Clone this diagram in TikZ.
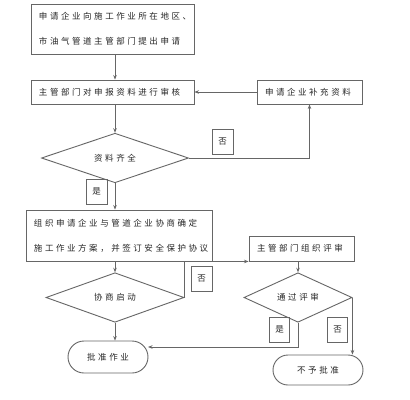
\documentclass[tikz,border=0pt]{standalone}
\usepackage{fontspec}
\newfontfamily\cjk[LetterSpace=30]{Noto Sans CJK SC}
\usetikzlibrary{shapes.geometric,arrows.meta}
\definecolor{lnc}{HTML}{666666}
\definecolor{txc}{HTML}{262626}
\tikzset{
  base/.style={draw=lnc, line width=0.9bp, text=txc, font=\cjk\fontsize{8.5bp}{25bp}\selectfont},
  box/.style={base, rectangle, inner xsep=8bp, inner ysep=0pt, align=left},
  dia/.style={base, diamond, inner sep=0pt},
  term/.style={base, rectangle, inner sep=0pt},
  lab/.style={base, rectangle, inner sep=0pt, minimum width=21bp, minimum height=25bp},
  arr/.style={draw=lnc, line width=0.9bp, -{Stealth[length=4.5bp,width=3.5bp]}},
  conn/.style={draw=lnc, line width=0.9bp},
}
\begin{document}
\begin{tikzpicture}[x=1bp,y=-1bp]
\useasboundingbox[fill=white] (0,0) rectangle (410,400);
% boxes
\node[box, minimum width=163bp, minimum height=50bp, text width=147bp] (b1) at (112.5,29)
  {申请企业向施工作业所在地区、\\市油气管道主管部门提出申请};
\node[box, minimum width=163bp, minimum height=24bp, text width=147bp] (b2) at (112.5,92)
  {主管部门对申报资料进行审核};
\node[box, minimum width=105bp, minimum height=24bp, text width=89bp] (b3) at (309.5,92)
  {申请企业补充资料};
\node[dia, minimum width=147bp, minimum height=42bp] (d1) at (115,158) {资料齐全};
\node[box, minimum width=186bp, minimum height=51bp, text width=170bp] (b4) at (119,235.5)
  {组织申请企业与管道企业协商确定\\施工作业方案，并签订安全保护协议};
\node[box, minimum width=105bp, minimum height=25bp, text width=89bp] (b5) at (301.5,248.5)
  {主管部门组织评审};
\node[dia, minimum width=138bp, minimum height=37bp] (d2) at (115,297.5) {协商启动};
\node[dia, minimum width=108bp, minimum height=37bp] (d3) at (298,297.5) {通过评审};
\node[term, minimum width=80bp, minimum height=32bp, rounded corners=16bp] (t1) at (108,357) {批准作业};
\node[term, minimum width=90bp, minimum height=30bp, rounded corners=15bp] (t2) at (318,370) {不予批准};
% labels
\node[lab] (l1) at (222.5,141.5) {否};
\node[lab] (l2) at (96.5,191.5) {是};
\node[lab] (l3) at (201.5,279) {否};
\node[lab, minimum width=20bp] (l4) at (279.5,329.5) {是};
\node[lab, minimum width=20bp] (l5) at (337.5,329.5) {否};
% coordinates
\coordinate (c1) at (148,347);
% connectors
\draw[arr] (b1.south -| d1.north) -- (b2.north -| d1.north);
\draw[arr] (b2.south -| d1.north) -- (d1.north);
\draw[arr] (b3.west) -- (b2.east);
\draw[arr] (d1.east) -| (b3.south);
\draw[arr] (d1.south) -- (b4.north -| d1.south);
\draw[arr] (b4.south -| d2.north) -- (d2.north);
\draw[arr] (d2.east) |- (b5.south west);
\draw[arr] (b5.south -| d3.north) -- (d3.north);
\draw[arr] (d2.south) -- (t1.north -| d2.south);
\draw[arr] (d3.south) |- (c1);
\draw[arr] (d3.east) -- (d3.east |- t2.north);
\end{tikzpicture}
\end{document}
